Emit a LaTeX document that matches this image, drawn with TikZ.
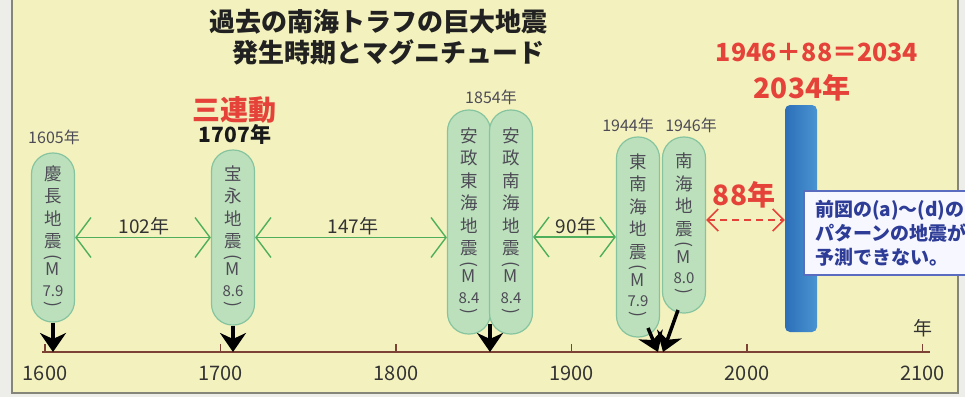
\documentclass[tikz,border=0pt]{standalone}
\usepackage{fontspec}
\setmainfont{Noto Sans CJK JP}
\usepackage{graphicx}
\usetikzlibrary{arrows.meta}
\definecolor{bgyellow}{HTML}{F3F2BE}
\definecolor{outerc}{HTML}{EDEDEA}
\definecolor{framec}{HTML}{85857A}
\definecolor{capfill}{HTML}{BCE0BC}
\definecolor{capdraw}{HTML}{86C4A0}
\definecolor{gline}{HTML}{4FAE5C}
\definecolor{axisc}{HTML}{7C4234}
\definecolor{redt}{HTML}{E5423A}
\definecolor{navyt}{HTML}{2D3C96}
\definecolor{boxdraw}{HTML}{5A6CC0}
\definecolor{capt}{HTML}{4D4B55}
\definecolor{bluel}{HTML}{2C6FB8}
\definecolor{bluer}{HTML}{4A94D2}
\definecolor{darkt}{HTML}{333333}
\newcommand{\capst}[2]{#1\\[-7.5pt]\rotatebox[origin=c]{-90}{(}\\[-9.5pt]M\\[-2pt]{\fontsize{15}{15}\selectfont #2}\\[-9pt]\rotatebox[origin=c]{-90}{)}}
\tikzset{
 capsule/.style={draw=capdraw, line width=1.2pt, fill=capfill, rounded corners=21pt, minimum width=43pt, inner sep=0pt},
 captext/.style={align=center, text=capt, font=\fontsize{17.5}{22.5}\selectfont, inner sep=0pt},
 yearlbl/.style={text=capt, font=\fontsize{16}{16}\selectfont, inner sep=0pt},
 gaplbl/.style={text=darkt, font=\fontsize{19}{19}\selectfont, inner sep=0pt},
 axislbl/.style={text=darkt, font=\fontsize{20}{20}\selectfont, inner sep=0pt},
 redlbl/.style={text=redt, font=\bfseries\fontsize{28}{28}\selectfont, inner sep=0pt},
 gaparrow/.style={draw=gline, line width=1.4pt, {Straight Barb[length=15pt,width=40pt]}-{Straight Barb[length=15pt,width=40pt]}},
 redarrow/.style={draw=redt, line width=1.6pt, dash pattern=on 7pt off 5pt, {Straight Barb[length=11pt,width=22pt]}-{Straight Barb[length=11pt,width=22pt]}},
 downarr/.style={draw=black, line width=3.5pt, -{Stealth[length=19pt,width=26pt,inset=6pt]}},
 axisline/.style={draw=axisc, line width=1.8pt},
 titlefont/.style={text=black!87, font=\bfseries\fontsize{26}{26}\selectfont, inner sep=0pt}
}
\begin{document}
\begin{tikzpicture}[x=1pt,y=-1pt]
\useasboundingbox (0,0) rectangle (965,397);
\clip (0,0) rectangle (965,397);
\fill[outerc] (0,0) rectangle (965,397);
\fill[bgyellow] (12,-5) rectangle (958,393);
\draw[framec, line width=1.5pt] (12,-5) -- (12,393) -- (958,393) -- (958,-5);

% title
\node[titlefont] (title1) at (378.5,22) {過去の南海トラフの巨大地震};
\node[titlefont] (title2) at (388.5,52) {発生時期とマグニチュード};

% axis
\coordinate (ax0) at (42,352);
\coordinate (ax1) at (930,352);
\draw[axisline] (ax0) -- (ax1);
\foreach \yr/\xx in {1600/45,1700/220.5,1800/396,1900/571.5,2000/747,2100/922.5}{
  \draw[axisline, line width=1.4pt] (\xx,352) -- (\xx,344);
  \node[axislbl] (lab\yr) at (\xx,373) {\yr};
}
\node[gaplbl] (nen) at (923,328) {年};

% capsules
\node[capsule, minimum height=169pt] (c1) at (53,237.5) {};
\node[capsule, minimum height=175pt] (c2) at (233,237.5) {};
\node[capsule, minimum height=224pt] (c3) at (469,222) {};
\node[capsule, minimum height=224pt] (c4) at (511,222) {};
\node[capsule, minimum height=200pt] (c5) at (638,237) {};
\node[capsule, minimum height=176pt] (c6) at (684,225) {};

\node[captext] (t1) at (c1) {\capst{慶\\長\\地\\震}{7.9}};
\node[captext] (t2) at (c2) {\capst{宝\\永\\地\\震}{8.6}};
\node[captext] (t3) at (c3) {\capst{安\\政\\東\\海\\地\\震}{8.4}};
\node[captext] (t4) at (c4) {\capst{安\\政\\南\\海\\地\\震}{8.4}};
\node[captext] (t5) at (c5) {\capst{東\\南\\海\\地\\震}{7.9}};
\node[captext] (t6) at (c6) {\capst{南\\海\\地\\震}{8.0}};

% year labels
\node[yearlbl] (y1605) at (54,137) {1605年};
\node[redlbl] (sanren) at (234.5,110) {三連動};
\node[text=black!90, font=\bfseries\fontsize{21}{21}\selectfont, inner sep=0pt] (y1707) at (235,134) {1707年};
\node[yearlbl] (y1854) at (491,97) {1854年};
\node[yearlbl] (y1944) at (628,125) {1944年};
\node[yearlbl] (y1946) at (691,125) {1946年};

% gap arrows
\draw[gaparrow] (c1.east) -- (c2.west);
\draw[gaparrow] (c2.east) -- (c2.east -| c3.west);
\draw[gaparrow] (c4.east |- c5.east) -- (c5.west);
\node[gaplbl] (g102) at (144,226) {102年};
\node[gaplbl] (g147) at (353,226) {147年};
\node[gaplbl] (g90) at (576,226) {90年};

% down arrows
\coordinate (d1) at (53,352);
\coordinate (d2) at (233,352);
\coordinate (s3) at (490,324);
\coordinate (d3) at (490,352);
\coordinate (s5) at (648,328);
\coordinate (d5) at (658,352);
\coordinate (s6) at (678,310);
\coordinate (d6) at (663,352);
\draw[downarr] (c1.south) -- (d1);
\draw[downarr] (c2.south) -- (d2);
\draw[downarr] (s3) -- (d3);
\draw[downarr] (s5) -- (d5);
\draw[downarr] (s6) -- (d6);

% future
\node[draw=none, rounded corners=5pt, left color=bluel, right color=bluer, minimum width=32pt, minimum height=227pt, inner sep=0pt] (bar) at (801,218.5) {};
\draw[redarrow] ([yshift=5pt]c6.east) -- ([yshift=5pt]c6.east -| bar.west);
\node[redlbl] (g88) at (744,195) {88年};
\node[redlbl, font=\bfseries\fontsize{25}{25}\selectfont] (formula) at (817,52) {1946＋88＝2034};
\node[redlbl, font=\bfseries\fontsize{28}{28}\selectfont] (y2034) at (802,88) {2034年};

\node[draw=boxdraw, line width=2pt, fill=white!92!blue!40!white, anchor=north west, minimum height=84pt, text width=172pt, inner xsep=11pt, align=left, text=navyt, font=\bfseries\fontsize{19}{24}\selectfont] (note) at (803,190) {前図の(a)～(d)の\\パターンの地震が\\予測できない。};
\end{tikzpicture}
\end{document}
